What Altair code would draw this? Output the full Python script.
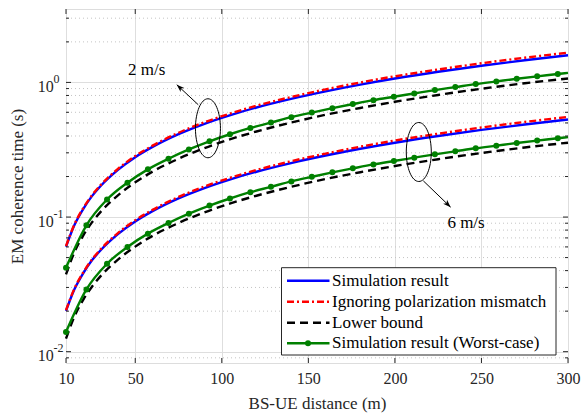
import altair as alt
import pandas as pd

# ---------------- data ----------------
SERIES = ["Simulation result", "Ignoring polarization mismatch", "Lower bound",
          "Simulation result (Worst-case)"]
SPEEDS = ["2 m/s", "6 m/s"]

D_CURVE = [10, 15, 20, 25, 30, 40, 50, 60, 75, 90, 105, 120, 140, 160, 180, 200, 225, 250, 275, 300]
SIM_2 = [0.0602, 0.0879, 0.1152, 0.143, 0.170, 0.224, 0.2785, 0.332, 0.413, 0.493, 0.572, 0.651,
         0.755, 0.859, 0.964, 1.069, 1.199, 1.331, 1.461, 1.590]
IGN_2 = [0.0608, 0.0890, 0.1167, 0.1451, 0.1727, 0.228, 0.284, 0.339, 0.423, 0.506, 0.588, 0.671,
         0.779, 0.888, 0.999, 1.110, 1.247, 1.387, 1.525, 1.663]
LB_2 = [0.0375, 0.0553, 0.0731, 0.0913, 0.1093, 0.145, 0.181, 0.2175, 0.271, 0.325, 0.379, 0.432,
        0.503, 0.575, 0.646, 0.718, 0.807, 0.897, 0.986, 1.070]
SIM_6 = [0.0201, 0.0293, 0.0384, 0.0477, 0.0567, 0.0747, 0.0928, 0.1107, 0.1377, 0.1643, 0.1907,
         0.217, 0.2517, 0.2863, 0.3213, 0.3563, 0.3997, 0.4437, 0.487, 0.530]
IGN_6 = [0.0203, 0.0297, 0.0389, 0.0484, 0.0576, 0.0760, 0.0947, 0.1130, 0.141, 0.1687, 0.196,
         0.2237, 0.2597, 0.296, 0.333, 0.370, 0.4157, 0.4623, 0.5083, 0.5543]
LB_6 = [0.0125, 0.0184, 0.0244, 0.0304, 0.0364, 0.0483, 0.0603, 0.0725, 0.0903, 0.1083, 0.1263,
        0.144, 0.1677, 0.1917, 0.2153, 0.2393, 0.269, 0.299, 0.3287, 0.3567]

D_WORST = [10.0, 21.8, 33.7, 45.5, 57.3, 69.2, 81.0, 92.9, 104.7, 116.5, 128.4, 140.2, 152.0,
           163.9, 175.7, 187.6, 199.4, 211.2, 223.1, 234.9, 246.7, 258.6, 270.4, 282.2, 294.1, 300.0]
WORST_2 = [0.0420, 0.0869, 0.135, 0.180, 0.226, 0.271, 0.318, 0.365, 0.412, 0.459, 0.503, 0.552,
           0.597, 0.644, 0.690, 0.738, 0.782, 0.828, 0.877, 0.923, 0.972, 1.017, 1.064, 1.109,
           1.154, 1.178]
WORST_6 = [0.0140, 0.0290, 0.0450, 0.0600, 0.0753, 0.0903, 0.106, 0.1217, 0.1373, 0.153, 0.1677,
           0.184, 0.199, 0.2147, 0.230, 0.246, 0.2607, 0.276, 0.2923, 0.3077, 0.324, 0.339,
           0.3547, 0.3697, 0.3847, 0.3927]

X_TICKS = [10, 50, 100, 150, 200, 250, 300]
Y_MAJOR = [0.01, 0.1, 1]
Y_EXP = ["-2", "-1", "0"]
Y_MINOR = [0.009, 0.02, 0.03, 0.04, 0.05, 0.06, 0.07, 0.08, 0.09,
           0.2, 0.3, 0.4, 0.5, 0.6, 0.7, 0.8, 0.9, 2, 3]

# annotations (ellipse centres, arrows, speed labels) in data units
ELLIPSES_D = [92.0, 213.8]
ELLIPSES_V = [0.4565, 0.3042]
ARROW_D1 = [86.4, 216.4]
ARROW_V1 = [0.6826, 0.1858]
ARROW_D2 = [74.0, 232.2]
ARROW_V2 = [0.9614, 0.1184]
LABEL_D = [56.6, 241.1]
LABEL_V = [1.243, 0.0906]

# ---------------- styling ----------------
W, H = 502, 354
FONT = "Liberation Serif, Times New Roman, serif"
AX = "#262626"
COLORS = ["#0000FF", "#FF0000", "#000000", "#008000"]
DASHES = [None, [7, 3, 2, 3], [8, 5], None]
LW = 2.4

rows = []
for name, v2, v6, dd in [(SERIES[0], SIM_2, SIM_6, D_CURVE), (SERIES[1], IGN_2, IGN_6, D_CURVE),
                         (SERIES[2], LB_2, LB_6, D_CURVE), (SERIES[3], WORST_2, WORST_6, D_WORST)]:
    for sp, vals in zip(SPEEDS, [v2, v6]):
        for d, v in zip(dd, vals):
            rows.append({"series": name, "speed": sp, "d": d, "v": v})
df = pd.DataFrame(rows)

xs = alt.Scale(domain=[10, 300], nice=False, zero=False)
ys = alt.Scale(type="log", domain=[0.00824, 3.51], nice=False)

x_axis = alt.Axis(values=X_TICKS, grid=True, gridColor="#dedede", gridWidth=1, ticks=False,
                  domain=False, labelFont=FONT, labelFontSize=16, labelColor=AX, labelPadding=7,
                  labelFlush=False, format="d",
                  title="BS-UE distance (m)", titleFont=FONT, titleFontSize=17,
                  titleFontWeight="normal", titleColor=AX, titleY=40, titleBaseline="middle")
y_axis = alt.Axis(values=Y_MAJOR, grid=True, gridColor="#dedede", gridWidth=1, ticks=False,
                  domain=False, labelExpr="'10'", labelFont=FONT, labelFontSize=16,
                  labelColor=AX, labelPadding=12.7, labelBaseline="middle", labelOffset=4,
                  title="EM coherence time (s)", titleFont=FONT, titleFontSize=17,
                  titleFontWeight="normal", titleColor=AX, titleX=-49, titleY=177,
                  titleBaseline="middle", titleAlign="center")


def X(field):
    return alt.X(field, scale=xs, axis=x_axis)


def Y(field):
    return alt.Y(field, scale=ys, axis=y_axis)


layers = []

# minor dotted grid
minor_df = pd.DataFrame({"v": Y_MINOR})
layers.append(alt.Chart(minor_df).mark_rule(color="#c4c4c4", strokeDash=[1, 3], strokeWidth=1)
              .encode(y=Y("v:Q")))

# base layer carrying both axes
major_df = pd.DataFrame({"v": Y_MAJOR, "e": Y_EXP, "d": [10, 10, 10]})
layers.append(alt.Chart(major_df).mark_point(opacity=0).encode(x=X("d:Q"), y=Y("v:Q")))

# curves
for i, name in enumerate(SERIES):
    mk = dict(color=COLORS[i], strokeWidth=LW, interpolate="monotone")
    if DASHES[i]:
        mk["strokeDash"] = DASHES[i]
    layers.append(alt.Chart(df).transform_filter(alt.datum.series == name)
                  .mark_line(**mk).encode(x=X("d:Q"), y=Y("v:Q"), detail="speed:N"))
layers.append(alt.Chart(df).transform_filter((alt.datum.series == SERIES[3]) & (alt.datum.d < 299))
              .mark_point(filled=True, shape="circle", size=36, color=COLORS[3], opacity=1)
              .encode(x=X("d:Q"), y=Y("v:Q")))

# inward ticks on all four sides
xt_df = pd.DataFrame({"d": X_TICKS})
for y1, y2 in [(H, H - 5), (0, 5)]:
    layers.append(alt.Chart(xt_df).mark_rule(color=AX, strokeWidth=1)
                  .encode(x=X("d:Q"), y=alt.value(y1), y2=alt.value(y2)))
for tdf, ln in [(pd.DataFrame({"v": Y_MAJOR}), 5), (minor_df, 3)]:
    for x1, x2 in [(0, ln), (W, W - ln)]:
        layers.append(alt.Chart(tdf).mark_rule(color=AX, strokeWidth=1)
                      .encode(y=Y("v:Q"), x=alt.value(x1), x2=alt.value(x2)))

# exponents of the y tick labels
layers.append(alt.Chart(major_df).mark_text(align="left", baseline="middle", font=FONT, fontSize=12,
                                            color=AX, dy=-3.5)
              .encode(x=alt.value(-12.4), y=Y("v:Q"), text="e:N"))

# annotations
ka, a, k = 0.234, 0.4237, 0.5523
ELLIPSE = (f"M0,-1C{ka},-1 {a},-{k} {a},0C{a},{k} {ka},1 0,1C-{ka},1 -{a},{k} -{a},0"
           f"C-{a},-{k} -{ka},-1 0,-1Z")
ell_df = pd.DataFrame({"d": ELLIPSES_D, "v": ELLIPSES_V})
layers.append(alt.Chart(ell_df).mark_point(shape=ELLIPSE, size=3481, filled=False, stroke="black",
                                           strokeWidth=1, opacity=1)
              .encode(x=X("d:Q"), y=Y("v:Q")))
arr_df = pd.DataFrame({"d1": ARROW_D1, "v1": ARROW_V1, "d2": ARROW_D2, "v2": ARROW_V2,
                       "ang": [312.7, 133.9]})
layers.append(alt.Chart(arr_df).mark_rule(color="black", strokeWidth=1)
              .encode(x=X("d1:Q"), y=Y("v1:Q"), x2="d2:Q", y2="v2:Q"))
HEAD = "M0,0L-0.8,2.2L0,1.6L0.8,2.2Z"
layers.append(alt.Chart(arr_df).mark_point(shape=HEAD, size=49, filled=True, color="black", opacity=1)
              .encode(x=X("d2:Q"), y=Y("v2:Q"), angle=alt.Angle("ang:Q", scale=None)))
lab_df = pd.DataFrame({"d": LABEL_D, "v": LABEL_V, "t": SPEEDS})
layers.append(alt.Chart(lab_df).mark_text(font=FONT, fontSize=17, color="black", align="center",
                                          baseline="middle")
              .encode(x=X("d:Q"), y=Y("v:Q"), text="t:N"))

# legend (drawn by hand)
one = pd.DataFrame({"a": [0]})
layers.append(alt.Chart(one).mark_rect(fill="white", stroke=AX, strokeWidth=1)
              .encode(x=alt.value(215.5), x2=alt.value(490), y=alt.value(258.7), y2=alt.value(346)))
ROW_Y = [271.7, 292.7, 313.7, 334.3]
for i, name in enumerate(SERIES):
    mk = dict(color=COLORS[i], strokeWidth=LW)
    if DASHES[i]:
        mk["strokeDash"] = DASHES[i]
    layers.append(alt.Chart(one).mark_rule(**mk)
                  .encode(x=alt.value(221), x2=alt.value(263.5), y=alt.value(ROW_Y[i])))
    layers.append(alt.Chart(pd.DataFrame({"t": [name]}))
                  .mark_text(font=FONT, fontSize=17, color="black", align="left", baseline="middle")
                  .encode(x=alt.value(266), y=alt.value(ROW_Y[i]), text="t:N"))
layers.append(alt.Chart(one).mark_point(filled=True, shape="circle", size=36, color=COLORS[3], opacity=1)
              .encode(x=alt.value(242), y=alt.value(ROW_Y[3])))

chart = (alt.layer(*layers)
         .properties(width=W, height=H,
                     padding={"left": 66, "top": 9, "right": 13, "bottom": 51},
                     autosize=alt.AutoSizeParams(type="none"))
         .configure_view(stroke=AX, strokeWidth=1)
         .configure(background="white"))

chart.save("out.html", embed_options={"renderer": "svg", "actions": False})
